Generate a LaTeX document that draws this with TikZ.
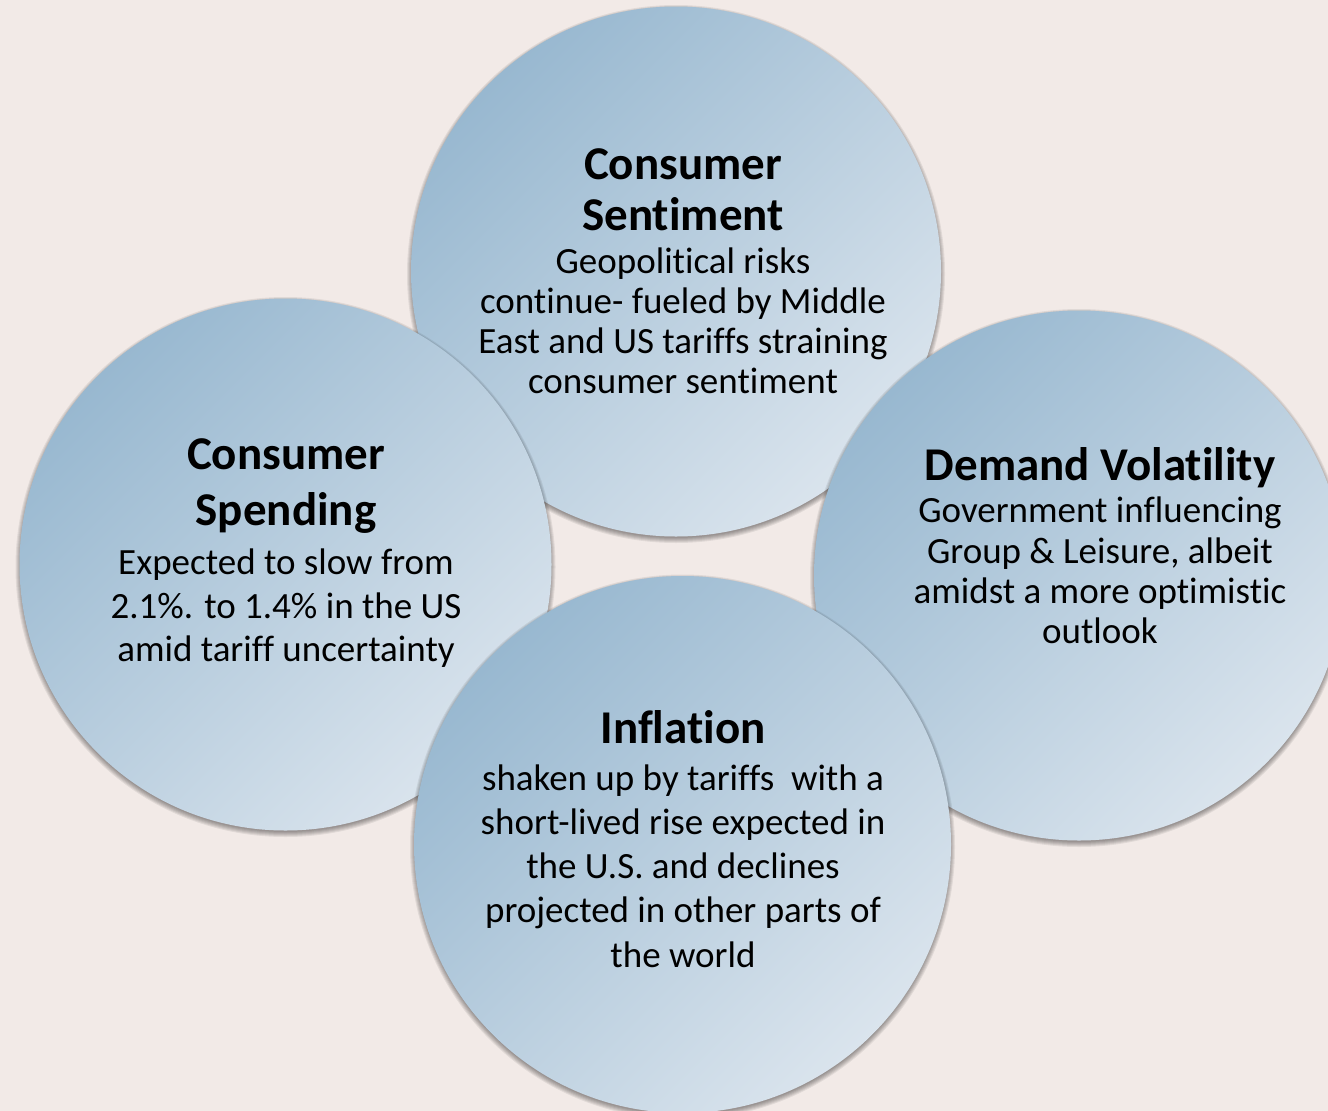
\documentclass[tikz,border=0pt]{standalone}
\usepackage{fontspec}
\setmainfont{Carlito}[Ligatures={NoCommon,NoRare}]
\definecolor{bg}{RGB}{242,234,231}
\definecolor{bubtop}{RGB}{152,184,208}
\definecolor{bubbot}{RGB}{218,228,237}
\tikzset{
  bubble/.style={circle, inner sep=0pt, outer sep=0pt, draw=none,
    top color=bubtop, bottom color=bubbot, shading angle=45},
  ttl/.style={font=\fontsize{47}{56}\selectfont\bfseries, anchor=base, inner sep=0pt},
  txt/.style={font=\fontsize{37}{44}\selectfont, anchor=base, inner sep=0pt},
}
\newcommand\bubshadow[3]{%
  \foreach \k in {1,...,6}{\fill[black,opacity=0.07] (#1,#2+2.5) circle[radius=#3pt+\k pt-2pt];}}
\begin{document}
\begin{tikzpicture}[x=1pt,y=-1pt]
\useasboundingbox (0,0) rectangle (1328,1111);
\fill[bg] (0,0) rectangle (1328,1111);
\clip (0,0) rectangle (1328,1111);

% top circle: Consumer Sentiment
\bubshadow{676}{271.5}{265}
\node[bubble, minimum size=530pt] (cs) at (676,271.5) {};
\node[ttl] (cs1) at (683,179) {Consumer};
\node[ttl] (cs2) at (683,230) {Sentiment};
\node[txt] (cs3) at (683,273) {Geopolitical risks};
\node[txt] (cs4) at (683,313) {continue- fueled by Middle};
\node[txt] (cs5) at (683,353) {East and US tariffs straining};
\node[txt] (cs6) at (683,393) {consumer sentiment};

% left circle: Consumer Spending
\bubshadow{285.5}{564.5}{266}
\node[bubble, minimum size=532pt] (sp) at (285.5,564.5) {};
\node[ttl] (sp1) at (286,469) {Consumer};
\node[ttl] (sp2) at (286,525) {Spending};
\node[txt] (sp3) at (286,574) {Expected to slow from};
\node[txt] (sp4) at (286,618) {2.1\%. to 1.4\% in the US};
\node[txt] (sp5) at (286,661) {amid tariff uncertainty};

% right circle: Demand Volatility
\bubshadow{1079}{575.5}{265}
\node[bubble, minimum size=530pt] (dv) at (1079,575.5) {};
\node[ttl] (dv1) at (1100,480) {Demand Volatility};
\node[txt] (dv2) at (1100,522) {Government influencing};
\node[txt] (dv3) at (1100,563) {Group \& Leisure, albeit};
\node[txt] (dv4) at (1100,603) {amidst a more optimistic};
\node[txt] (dv5) at (1100,643) {outlook};

% bottom circle: Inflation
\bubshadow{682.5}{844.5}{268.5}
\node[bubble, minimum size=537pt] (in) at (682.5,844.5) {};
\node[ttl] (in1) at (683,743) {Inflation};
\node[txt] (in2) at (683,790) {shaken up by tariffs\ \ with a};
\node[txt] (in3) at (683,834) {short-lived rise expected in};
\node[txt] (in4) at (683,878) {the U.S. and declines};
\node[txt] (in5) at (683,922) {projected in other parts of};
\node[txt] (in6) at (683,967) {the world};
\end{tikzpicture}
\end{document}
